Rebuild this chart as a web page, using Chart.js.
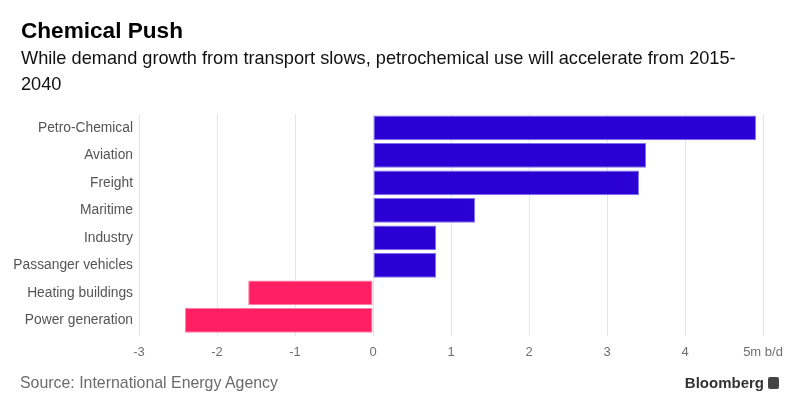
<!DOCTYPE html>
<html>
<head>
<meta charset="utf-8">
<script src="https://cdn.jsdelivr.net/npm/chart.js@4"></script>
<style>
  html, body { margin: 0; padding: 0; background: #fff; }
  body { width: 800px; height: 412px; position: relative; overflow: hidden; font-family: "Liberation Sans", Arial, Helvetica, sans-serif; }
  #wrap { position: absolute; left: 0; top: 0; width: 800px; height: 412px; }
  .title { position: absolute; left: 21px; top: 18px; font-size: 22.6px; line-height: 26px; font-weight: bold; color: #000; }
  .subtitle { position: absolute; left: 21px; top: 45px; width: 770px; font-size: 18.2px; line-height: 26px; color: #111; }
  .source { position: absolute; left: 20px; top: 374px; font-size: 15.9px; line-height: 18px; color: #6b6b6b; }
  .brand { position: absolute; right: 21px; top: 374px; font-size: 15px; line-height: 18px; font-weight: bold; color: #333; display: flex; align-items: center; }
  .brand .icon { display: inline-block; width: 11px; height: 12px; background: #444; border-radius: 2px; margin-left: 4px; position: relative; }
</style>
</head>
<body>
<div id="wrap"><canvas id="c" width="800" height="412"></canvas></div>
<div class="title">Chemical Push</div>
<div class="subtitle">While demand growth from transport slows, petrochemical use will accelerate from 2015-<br>2040</div>
<div class="source">Source: International Energy Agency</div>
<div class="brand">Bloomberg<span class="icon"></span></div>
<script>
const categories = ["Petro-Chemical", "Aviation", "Freight", "Maritime", "Industry", "Passanger vehicles", "Heating buildings", "Power generation"];
const demandGrowth = [4.91, 3.5, 3.41, 1.31, 0.81, 0.81, -1.6, -2.41];
const xTickValues = [-3, -2, -1, 0, 1, 2, 3, 4, 5];
const xTickLabels = ["-3", "-2", "-1", "0", "1", "2", "3", "4", "5m b/d"];

const POS = "#2b00d4", NEG = "#ff1f62";
const POS_B = "#7f72ee", NEG_B = "#ff7ea3";

new Chart(document.getElementById("c"), {
  type: "bar",
  data: {
    labels: categories,
    datasets: [{
      data: demandGrowth,
      backgroundColor: demandGrowth.map(v => v >= 0 ? POS : NEG),
      borderColor: demandGrowth.map(v => v >= 0 ? POS_B : NEG_B),
      borderWidth: 1,
      borderSkipped: false,
      barPercentage: 0.9,
      categoryPercentage: 1.0
    }]
  },
  options: {
    indexAxis: "y",
    responsive: false,
    animation: false,
    layout: { padding: { top: 114, right: 37, bottom: 0, left: 0 } },
    plugins: { legend: { display: false }, tooltip: { enabled: false } },
    scales: {
      x: {
        min: xTickValues[0],
        max: xTickValues[xTickValues.length - 1],
        afterBuildTicks: (s) => { s.ticks = xTickValues.map(v => ({ value: v })); },
        ticks: {
          callback: (v) => { const i = xTickValues.indexOf(v); return i >= 0 ? xTickLabels[i] : ""; },
          color: "#6f6f6f",
          font: { family: "'Liberation Sans', Arial, sans-serif", size: 13 },
          padding: 9,
          maxRotation: 0,
          autoSkip: false
        },
        grid: { color: "#e6e6e6", lineWidth: 1, drawTicks: true, tickLength: 2 },
        border: { display: false },
        afterFit: (s) => { s.height = 412 - 334; }
      },
      y: {
        ticks: {
          color: "#555555",
          font: { family: "'Liberation Sans', Arial, sans-serif", size: 13.8 },
          padding: 6
        },
        grid: { display: false, drawTicks: false },
        border: { display: false },
        afterFit: (s) => { s.width = 139; }
      }
    }
  }
});
</script>
</body>
</html>
